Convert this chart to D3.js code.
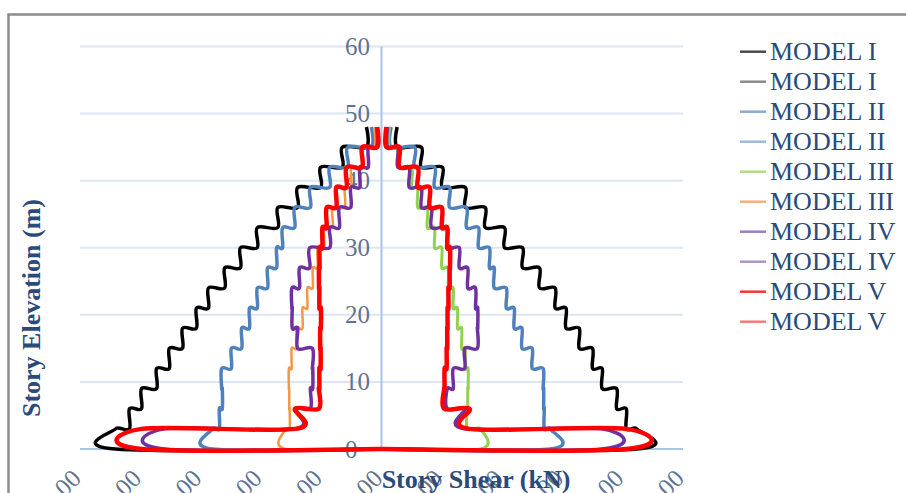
<!DOCTYPE html>
<html>
<head>
<meta charset="utf-8">
<script src="https://cdn.jsdelivr.net/npm/d3@7"></script>
<style>
  html, body { margin: 0; padding: 0; background: #fff; }
  svg { display: block; font-family: "Liberation Serif", "Times New Roman", serif; }
</style>
</head>
<body>
<svg id="chart" width="906" height="493"></svg>
<script>
// story levels (m), bottom to top
var elevations = [0, 3, 6, 9, 12, 15, 18, 21, 24, 27, 30, 33, 36, 39, 42, 45, 48];

// story shear (kN) per story, from base story (0-3) up to roof story (45-48)
var model1A = [2115, 2030, 1950, 1830, 1750, 1640, 1530, 1440, 1310, 1170, 1020, 860, 695, 505, 330, 130];
var model1B = [-2205, -2090, -1990, -1865, -1760, -1650, -1535, -1435, -1300, -1170, -1030, -860, -695, -505, -325, -125];
var model2A = [1400, 1350, 1345, 1340, 1250, 1165, 1100, 1035, 935, 895, 805, 705, 565, 440, 275, 80];
var model2B = [-1400, -1345, -1320, -1325, -1245, -1160, -1095, -1030, -945, -870, -820, -720, -590, -430, -280, -85];
var model3A = [820, 712, 715, 718, 695, 665, 630, 595, 555, 500, 440, 380, 300, 250, 135, 65];
var model3B = [-795, -762, -765, -768, -745, -705, -655, -615, -570, -530, -475, -405, -305, -250, -165, -60];
var model4A = [1825, 690, 545, 595, 690, 795, 798, 780, 715, 645, 545, 415, 330, 230, 135, 50];
var model4B = [-1800, -720, -590, -570, -573, -695, -740, -743, -680, -595, -430, -350, -255, -180, -110, -40];
var model5A = [2030, 730, 520, 523, 540, 545, 548, 555, 565, 568, 545, 500, 400, 300, 150, 40];
var model5B = [-1990, -715, -520, -515, -505, -508, -503, -515, -518, -513, -490, -455, -375, -290, -160, -35];

var seriesNames = ["MODEL I", "MODEL I", "MODEL II", "MODEL II", "MODEL III", "MODEL III",
                   "MODEL IV", "MODEL IV", "MODEL V", "MODEL V"];
var seriesData = [model1A, model1B, model2A, model2B, model3A, model3B, model4A, model4B, model5A, model5B];

var xTickValues = [-2500, -2000, -1500, -1000, -500, 0, 500, 1000, 1500, 2000, 2500];
var yTickValues = [0, 10, 20, 30, 40, 50, 60];

// styles
var lineColors = ["#000000", "#000000", "#4f81bd", "#4f81bd", "#92d050", "#f79646",
                  "#7030a0", "#7030a0", "#ff0000", "#ff0000"];
var lineWidths = [3.5, 3.5, 3.5, 3.5, 3, 2.5, 3.5, 3.5, 4.5, 4.5];
var legendColors = ["#4a4a4a", "#8a8a8a", "#86a9d6", "#9cbae0", "#b3d98f", "#f5b07e",
                    "#9c7cc2", "#ad94cc", "#f03838", "#f77a7a"];

var svg = d3.select("#chart");

var x = d3.scaleLinear().domain([-2500, 2500]).range([80, 683]);
var y = d3.scaleLinear().domain([0, 60]).range([449, 46.5]);

// chart border
svg.append("rect")
  .attr("x", 8.5).attr("y", 14.5)
  .attr("width", 1000).attr("height", 1000)
  .attr("fill", "none")
  .attr("stroke", "#8c8c8c")
  .attr("stroke-width", 2.5);

// horizontal gridlines
svg.append("g").selectAll("line")
  .data(yTickValues.filter(function(d) { return d !== 0; }))
  .enter().append("line")
    .attr("x1", x(-2500)).attr("x2", x(2500))
    .attr("y1", function(d) { return y(d); })
    .attr("y2", function(d) { return y(d); })
    .attr("stroke", "#dce6f4")
    .attr("stroke-width", 2);

// axis lines
svg.append("line")
  .attr("x1", x(-2500)).attr("x2", x(2500))
  .attr("y1", y(0)).attr("y2", y(0))
  .attr("stroke", "#a9c4e8").attr("stroke-width", 2);
svg.append("line")
  .attr("x1", x(0)).attr("x2", x(0))
  .attr("y1", y(0)).attr("y2", y(60))
  .attr("stroke", "#a9c4e8").attr("stroke-width", 2);

// y tick labels (sit left of the vertical axis)
var yAxis = svg.append("g")
  .attr("transform", "translate(345,0)")
  .call(d3.axisRight(y).tickValues(yTickValues).tickSize(0).tickPadding(0));
yAxis.select(".domain").remove();
yAxis.selectAll("text")
  .attr("fill", "#5f7391")
  .style("font-size", "25px")
  .style("font-family", "Liberation Serif");

// x tick labels, rotated, low at the bottom
var xAxis = svg.append("g")
  .attr("transform", "translate(0,480)")
  .call(d3.axisBottom(x).tickValues(xTickValues).tickFormat(d3.format(".2f")).tickSize(0));
xAxis.select(".domain").remove();
xAxis.selectAll("text")
  .attr("x", 0).attr("y", 0).attr("dy", 0)
  .attr("transform", "translate(2,0) rotate(-45)")
  .style("text-anchor", "end")
  .attr("fill", "#5f7391")
  .style("font-size", "25px")
  .style("font-family", "Liberation Serif");

// step profile: each story holds its shear from top to bottom level
function profile(v) {
  var pts = [];
  for (var i = v.length - 1; i >= 0; i--) {
    pts.push([v[i], elevations[i + 1]]);
    pts.push([v[i], elevations[i]]);
  }
  pts.push([0, 0]);
  return pts;
}

var line = d3.line()
  .x(function(d) { return x(d[0]); })
  .y(function(d) { return y(d[1]); })
  .curve(d3.curveCardinal.tension(0));

svg.append("g").selectAll("path")
  .data(seriesData)
  .enter().append("path")
    .attr("d", function(d) { return line(profile(d)); })
    .attr("fill", "none")
    .attr("stroke", function(d, i) { return lineColors[i]; })
    .attr("stroke-width", function(d, i) { return lineWidths[i]; })
    .attr("stroke-linejoin", "round");

// axis titles
svg.append("text")
  .attr("transform", "translate(40,308) rotate(-90)")
  .attr("text-anchor", "middle")
  .attr("fill", "#2a4a7c")
  .style("font-size", "26px")
  .style("font-weight", "bold")
  .text("Story Elevation (m)");

svg.append("text")
  .attr("x", 476).attr("y", 488)
  .attr("text-anchor", "middle")
  .attr("fill", "#2a4a7c")
  .style("font-size", "26px")
  .style("font-weight", "bold")
  .text("Story Shear (kN)");

// legend
var legend = svg.append("g").selectAll("g")
  .data(seriesNames)
  .enter().append("g")
    .attr("transform", function(d, i) { return "translate(740," + (51.7 + i * 30) + ")"; });
legend.append("line")
  .attr("x1", 0).attr("x2", 26)
  .attr("stroke", function(d, i) { return legendColors[i]; })
  .attr("stroke-width", 2.5);
legend.append("text")
  .attr("x", 30).attr("y", 8.6)
  .attr("fill", "#2a4a7c")
  .style("font-size", "26px")
  .text(function(d) { return d; });
</script>
</body>
</html>
